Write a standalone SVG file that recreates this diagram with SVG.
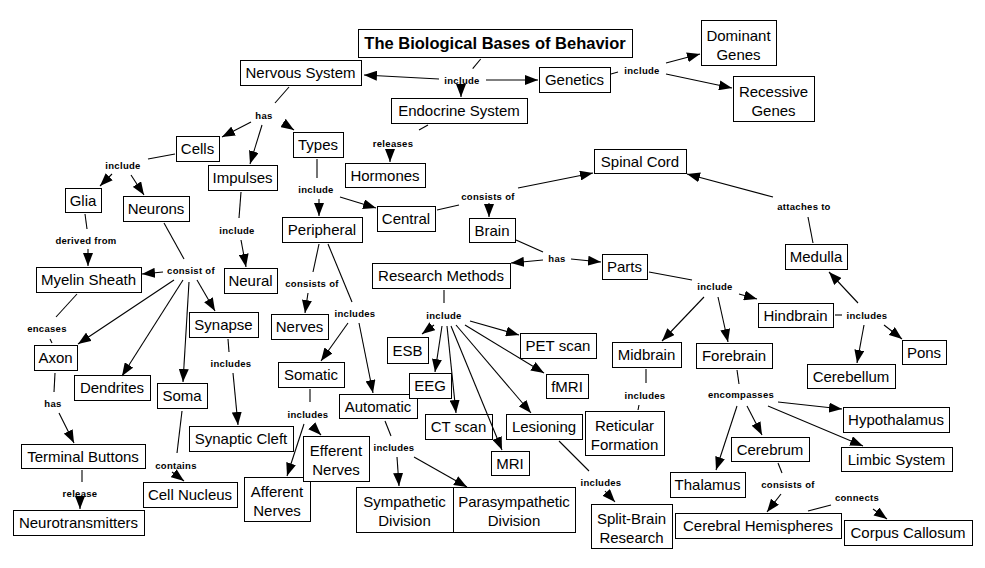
<svg xmlns="http://www.w3.org/2000/svg" width="985" height="568" viewBox="0 0 985 568">
<defs>
<marker id="ah" markerUnits="userSpaceOnUse" markerWidth="13" markerHeight="10" refX="13" refY="5" orient="auto">
<path d="M0,0 L13,5 L0,10 z" fill="#000"/>
</marker>
<style>
.n rect{fill:#fff;stroke:#000;stroke-width:1}
.n text{font-family:"Liberation Sans",Arial,sans-serif;font-size:15px;text-anchor:middle;fill:#000}
#title text{font-weight:bold;font-size:16.5px}
.c path{stroke:#000;stroke-width:1.1;fill:none}
.c path.a{marker-end:url(#ah)}
.c text{font-family:"Liberation Sans",Arial,sans-serif;font-size:9.5px;font-weight:bold;text-anchor:middle;fill:#000;letter-spacing:0.3px}
</style>
</defs>
<rect width="985" height="568" fill="#fff"/>
<g id="nodes">
<g id="title" class="n"><rect x="358.5" y="29.5" width="274" height="28"/><text x="495" y="49">The Biological Bases of Behavior</text></g>
<g id="nervous" class="n"><rect x="240.5" y="60.5" width="121" height="25"/><text x="300.5" y="78">Nervous System</text></g>
<g id="genetics" class="n"><rect x="539.5" y="67.5" width="71" height="25"/><text x="574.5" y="85">Genetics</text></g>
<g id="endocrine" class="n"><rect x="391.5" y="98.5" width="136" height="25"/><text x="459" y="116">Endocrine System</text></g>
<g id="dominant" class="n"><rect x="701.5" y="20.5" width="75" height="45"/><text x="738.5" y="40.5">Dominant</text><text x="738.5" y="59.5">Genes</text></g>
<g id="recessive" class="n"><rect x="733.5" y="76.5" width="81" height="45"/><text x="773.5" y="96.5">Recessive</text><text x="773.5" y="115.5">Genes</text></g>
<g id="cells" class="n"><rect x="176.5" y="136.5" width="43" height="25"/><text x="197.5" y="154">Cells</text></g>
<g id="types" class="n"><rect x="293.5" y="132.5" width="50" height="25"/><text x="318" y="150">Types</text></g>
<g id="impulses" class="n"><rect x="208.5" y="165.5" width="69" height="25"/><text x="242.5" y="183">Impulses</text></g>
<g id="hormones" class="n"><rect x="345.5" y="163.5" width="80" height="24"/><text x="385" y="181">Hormones</text></g>
<g id="glia" class="n"><rect x="65.5" y="188.5" width="36" height="24"/><text x="83" y="206">Glia</text></g>
<g id="neurons" class="n"><rect x="123.5" y="196.5" width="66" height="25"/><text x="156" y="214">Neurons</text></g>
<g id="peripheral" class="n"><rect x="282.5" y="217.5" width="80" height="25"/><text x="322" y="235">Peripheral</text></g>
<g id="central" class="n"><rect x="377.5" y="206.5" width="58" height="25"/><text x="406" y="224">Central</text></g>
<g id="brain" class="n"><rect x="469.5" y="218.5" width="46" height="24"/><text x="492" y="236">Brain</text></g>
<g id="spinal" class="n"><rect x="594.5" y="149.5" width="92" height="24"/><text x="640" y="167">Spinal Cord</text></g>
<g id="medulla" class="n"><rect x="785.5" y="244.5" width="62" height="25"/><text x="816" y="262">Medulla</text></g>
<g id="parts" class="n"><rect x="602.5" y="254.5" width="45" height="25"/><text x="624.5" y="272">Parts</text></g>
<g id="research" class="n"><rect x="372.5" y="263.5" width="138" height="25"/><text x="441" y="281">Research Methods</text></g>
<g id="neural" class="n"><rect x="224.5" y="268.5" width="53" height="25"/><text x="250.5" y="286">Neural</text></g>
<g id="myelin" class="n"><rect x="36.5" y="267.5" width="105" height="25"/><text x="88.5" y="285">Myelin Sheath</text></g>
<g id="hindbrain" class="n"><rect x="758.5" y="303.5" width="75" height="24"/><text x="795.5" y="321">Hindbrain</text></g>
<g id="midbrain" class="n"><rect x="612.5" y="342.5" width="69" height="25"/><text x="646.5" y="360">Midbrain</text></g>
<g id="forebrain" class="n"><rect x="696.5" y="343.5" width="76" height="25"/><text x="734" y="361">Forebrain</text></g>
<g id="pons" class="n"><rect x="902.5" y="340.5" width="44" height="24"/><text x="924" y="358">Pons</text></g>
<g id="cerebellum" class="n"><rect x="807.5" y="364.5" width="88" height="24"/><text x="851" y="382">Cerebellum</text></g>
<g id="reticular" class="n"><rect x="585.5" y="411.5" width="79" height="44"/><text x="624.5" y="431">Reticular</text><text x="624.5" y="450">Formation</text></g>
<g id="hypothalamus" class="n"><rect x="843.5" y="407.5" width="106" height="25"/><text x="896" y="425">Hypothalamus</text></g>
<g id="limbic" class="n"><rect x="841.5" y="447.5" width="111" height="24"/><text x="896.5" y="465">Limbic System</text></g>
<g id="cerebrum" class="n"><rect x="731.5" y="437.5" width="78" height="24"/><text x="770" y="455">Cerebrum</text></g>
<g id="thalamus" class="n"><rect x="670.5" y="472.5" width="75" height="25"/><text x="707.5" y="490">Thalamus</text></g>
<g id="hemispheres" class="n"><rect x="675.5" y="513.5" width="166" height="25"/><text x="758" y="531">Cerebral Hemispheres</text></g>
<g id="corpus" class="n"><rect x="844.5" y="520.5" width="128" height="25"/><text x="908" y="538">Corpus Callosum</text></g>
<g id="lesioning" class="n"><rect x="506.5" y="414.5" width="76" height="25"/><text x="544" y="432">Lesioning</text></g>
<g id="splitbrain" class="n"><rect x="591.5" y="504.5" width="81" height="44"/><text x="631.5" y="524">Split-Brain</text><text x="631.5" y="543">Research</text></g>
<g id="pet" class="n"><rect x="520.5" y="333.5" width="76" height="25"/><text x="558" y="351">PET scan</text></g>
<g id="fmri" class="n"><rect x="546.5" y="374.5" width="42" height="24"/><text x="567" y="392">fMRI</text></g>
<g id="mri" class="n"><rect x="491.5" y="451.5" width="38" height="24"/><text x="510" y="469">MRI</text></g>
<g id="esb" class="n"><rect x="387.5" y="337.5" width="41" height="26"/><text x="407.5" y="356">ESB</text></g>
<g id="ctscan" class="n"><rect x="425.5" y="414.5" width="67" height="25"/><text x="458.5" y="432">CT scan</text></g>
<g id="synapse" class="n"><rect x="189.5" y="312.5" width="69" height="25"/><text x="223.5" y="330">Synapse</text></g>
<g id="axon" class="n"><rect x="34.5" y="345.5" width="43" height="25"/><text x="55.5" y="363">Axon</text></g>
<g id="dendrites" class="n"><rect x="74.5" y="375.5" width="76" height="25"/><text x="112" y="393">Dendrites</text></g>
<g id="soma" class="n"><rect x="157.5" y="383.5" width="50" height="25"/><text x="182" y="401">Soma</text></g>
<g id="nerves" class="n"><rect x="271.5" y="314.5" width="57" height="25"/><text x="299.5" y="332">Nerves</text></g>
<g id="somatic" class="n"><rect x="278.5" y="362.5" width="66" height="25"/><text x="311" y="380">Somatic</text></g>
<g id="automatic" class="n"><rect x="339.5" y="394.5" width="78" height="24"/><text x="378" y="412">Automatic</text></g>
<g id="eeg" class="n"><rect x="409.5" y="373.5" width="42" height="25"/><text x="430" y="391">EEG</text></g>
<g id="afferent" class="n"><rect x="244.5" y="477.5" width="66" height="44"/><text x="277" y="497">Afferent</text><text x="277" y="516">Nerves</text></g>
<g id="efferent" class="n"><rect x="303.5" y="436.5" width="66" height="45"/><text x="336" y="456">Efferent</text><text x="336" y="475">Nerves</text></g>
<g id="cleft" class="n"><rect x="189.5" y="426.5" width="104" height="25"/><text x="241" y="444">Synaptic Cleft</text></g>
<g id="nucleus" class="n"><rect x="143.5" y="482.5" width="94" height="25"/><text x="190" y="500">Cell Nucleus</text></g>
<g id="terminal" class="n"><rect x="21.5" y="444.5" width="124" height="24"/><text x="83" y="462">Terminal Buttons</text></g>
<g id="neurotransmitters" class="n"><rect x="13.5" y="510.5" width="131" height="25"/><text x="78.5" y="528">Neurotransmitters</text></g>
<g id="sympathetic" class="n"><rect x="356.5" y="487.5" width="97" height="45"/><text x="404.5" y="507">Sympathetic</text><text x="404.5" y="526">Division</text></g>
<g id="parasympathetic" class="n"><rect x="453.5" y="487.5" width="122" height="45"/><text x="514" y="507">Parasympathetic</text><text x="514" y="526">Division</text></g>
</g>
<g id="connectors" class="c">
<path d="M480.7,59 L472.7,68.7"/>
<path class="a" d="M439,79 L364,75"/>
<path class="a" d="M461,86 L461,97"/>
<path class="a" d="M486,80 L538,80"/>
<text x="462" y="83.5">include</text>
<path d="M611,74 L618,72"/>
<path class="a" d="M666,63 L700,54"/>
<path class="a" d="M666,74 L732,88"/>
<text x="642" y="73.5">include</text>
<path d="M289,87 L275,103"/>
<path class="a" d="M251,122 L222,137"/>
<path class="a" d="M262,125 L250,164"/>
<path class="a" d="M283,123 L294,130"/>
<text x="264" y="118.5">has</text>
<path d="M428,125 L419,130"/>
<path class="a" d="M390,150 L390,162"/>
<text x="393" y="146.5">releases</text>
<path d="M175,154 L148,159"/>
<path class="a" d="M112,174 L100,186"/>
<path class="a" d="M131,175 L144,195"/>
<text x="123" y="168.5">include</text>
<path d="M317,159 L317,178"/>
<path class="a" d="M319,199 L319,216"/>
<path class="a" d="M340,197 L376,208"/>
<text x="316" y="192.5">include</text>
<path d="M437,210 L459,205"/>
<path class="a" d="M489,203 L489,217"/>
<path class="a" d="M518,188 L593,173"/>
<text x="488" y="199.5">consists of</text>
<path d="M813,243 L808,217"/>
<path class="a" d="M773,197 L687,174"/>
<text x="804" y="209.5">attaches to</text>
<path d="M516,240 L543,252"/>
<path class="a" d="M543,260 L511,263"/>
<path class="a" d="M571,259 L601,262"/>
<text x="557" y="261.5">has</text>
<path d="M649,272 L692,280"/>
<path class="a" d="M739,294 L757,299"/>
<path class="a" d="M704,297 L662,341"/>
<path class="a" d="M718,297 L728,342"/>
<text x="715" y="289.5">include</text>
<path d="M835,315 L842,315"/>
<path class="a" d="M858,303 L829,272"/>
<path class="a" d="M864,325 L857,363"/>
<path class="a" d="M884,325 L902,339"/>
<text x="867" y="318.5">includes</text>
<path d="M646,369 L646,383"/>
<path d="M639,405 L638,410"/>
<text x="645" y="398.5">includes</text>
<path d="M737,370 L739,384"/>
<path class="a" d="M737,406 L716,470"/>
<path class="a" d="M747,406 L762,435"/>
<path class="a" d="M778,402 L842,409"/>
<path class="a" d="M768,406 L863,446"/>
<text x="741" y="397.5">encompasses</text>
<path d="M778,463 L782,473"/>
<path class="a" d="M781,494 L767,512"/>
<text x="788" y="487.5">consists of</text>
<path d="M808,511 L831,505"/>
<path class="a" d="M873,509 L887,519"/>
<text x="857" y="500.5">connects</text>
<path d="M559,441 L589,471"/>
<path class="a" d="M605,491 L615,502"/>
<text x="601" y="485.5">includes</text>
<path d="M444,290 L444,303"/>
<path class="a" d="M434,325 L422,334"/>
<path class="a" d="M442,326 L435,372"/>
<path class="a" d="M447,326 L456,413"/>
<path class="a" d="M451,326 L502,450"/>
<path class="a" d="M456,325 L531,413"/>
<path class="a" d="M465,325 L544,373"/>
<path class="a" d="M470,321 L519,335"/>
<text x="444" y="318.5">include</text>
<path d="M241,192 L239,218"/>
<path class="a" d="M241,240 L246,267"/>
<text x="237" y="233.5">include</text>
<path d="M85,214 L87,229"/>
<path class="a" d="M88,249 L88,266"/>
<text x="86" y="243.5">derived from</text>
<path d="M164,223 L184,259"/>
<path class="a" d="M163,272 L142,274"/>
<path class="a" d="M174,280 L78,344"/>
<path class="a" d="M183,280 L122,376"/>
<path class="a" d="M189,282 L183,382"/>
<path class="a" d="M197,280 L215,311"/>
<text x="191" y="273.5">consist of</text>
<path d="M319,244 L313,272"/>
<path class="a" d="M308,293 L305,313"/>
<text x="312" y="286.5">consists of</text>
<path d="M328,244 L352,302"/>
<path class="a" d="M348,323 L321,361"/>
<path class="a" d="M359,323 L373,393"/>
<text x="355" y="316.5">includes</text>
<path d="M310,389 L310,402"/>
<path class="a" d="M304,424 L287,476"/>
<path class="a" d="M312,426 L321,435"/>
<text x="308" y="417.5">includes</text>
<path d="M228,339 L229,352"/>
<path class="a" d="M233,373 L238,425"/>
<text x="231" y="366.5">includes</text>
<path d="M182,411 L177,453"/>
<path class="a" d="M172,472 L184,481"/>
<text x="176" y="468.5">contains</text>
<path d="M77,294 L56,317"/>
<path d="M50,339 L52,343"/>
<text x="47" y="331.5">encases</text>
<path d="M55,373 L54,392"/>
<path class="a" d="M59,413 L74,443"/>
<text x="53" y="406.5">has</text>
<path d="M82,470 L82,482"/>
<path class="a" d="M80,499 L80,509"/>
<text x="80" y="496.5">release</text>
<path d="M385,421 L391,436"/>
<path class="a" d="M397,457 L399,486"/>
<path class="a" d="M414,457 L467,487"/>
<text x="394" y="450.5">includes</text>
</g>
</svg>
